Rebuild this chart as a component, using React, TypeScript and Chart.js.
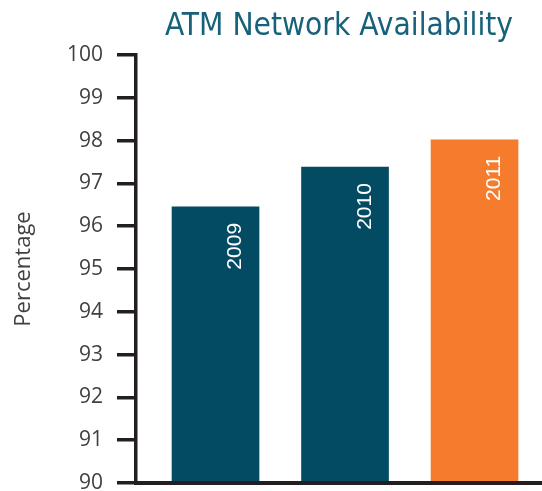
import React, { useEffect, useRef } from "react";
import { Chart, registerables } from "chart.js";

Chart.register(...registerables);

const years = ["2009", "2010", "2011"];
const availability = [96.45, 97.38, 98.02];
const barColors = ["#034a63", "#034a63", "#f47c2c"];
const yMin = 90;
const yMax = 100;
const yStep = 1;
const chartTitle = "ATM Network Availability";
const yAxisTitle = "Percentage";

const barLabelPlugin = {
  id: "barLabels",
  afterDatasetsDraw(chart: any) {
    const meta = chart.getDatasetMeta(0);
    const ctx = chart.ctx;
    ctx.save();
    ctx.fillStyle = "#ffffff";
    ctx.font = '21px "Liberation Sans", Arial, sans-serif';
    ctx.textAlign = "right";
    ctx.textBaseline = "middle";
    meta.data.forEach((bar: any, i: number) => {
      ctx.save();
      ctx.translate(bar.x + 20, bar.y + 16);
      ctx.rotate(-Math.PI / 2);
      ctx.fillText(years[i], 0, 0);
      ctx.restore();
    });
    ctx.restore();
  },
};

export default function App() {
  const canvasRef = useRef<HTMLCanvasElement | null>(null);

  useEffect(() => {
    if (!canvasRef.current) return;
    const chart = new Chart(canvasRef.current, {
      type: "bar",
      data: {
        datasets: [
          {
            data: availability.map((v, i) => ({ x: i, y: v })),
            backgroundColor: barColors,
            borderWidth: 0,
            barThickness: 87,
          },
        ],
      },
      options: {
        responsive: false,
        animation: false,
        layout: { padding: 0 },
        plugins: {
          legend: { display: false },
          tooltip: { enabled: false },
          title: {
            display: true,
            text: chartTitle,
            fullSize: false,
            color: "#17617a",
            font: {
              family: '"DejaVu Sans Condensed", "DejaVu Sans", sans-serif',
              size: 31.4,
              weight: "normal",
              lineHeight: 1.2,
            },
            padding: { top: 8.5, bottom: 8.8 },
          },
        },
        scales: {
          x: {
            type: "linear",
            offset: false,
            min: -0.614,
            max: 2.521,
            ticks: { display: false },
            grid: { display: false },
            border: { display: true, color: "#231f20", width: 4, z: 1 },
            afterFit: (s: any) => {
              s.height = 8;
              s.paddingTop = 0;
              s.paddingBottom = 0;
            },
          },
          y: {
            min: yMin,
            max: yMax,
            ticks: {
              stepSize: yStep,
              color: "#404040",
              font: { family: '"Open Sans", sans-serif', size: 21 },
              padding: 14,
            },
            grid: {
              drawOnChartArea: false,
              drawTicks: true,
              tickLength: 19,
              lineWidth: 3.5,
              color: "#231f20",
            },
            border: { color: "#231f20", width: 3.5 },
            title: {
              display: true,
              text: yAxisTitle,
              color: "#404040",
              font: { family: '"Open Sans", sans-serif', size: 22 },
              padding: { top: 11, bottom: 0 },
            },
            afterFit: (s: any) => {
              s.width = 136;
              s.paddingTop = 0;
              s.paddingBottom = 0;
            },
          },
        },
      } as any,
      plugins: [barLabelPlugin],
    });
    return () => chart.destroy();
  }, []);

  return (
    <div style={{ position: "absolute", left: 0, top: 0, width: 542, height: 491 }}>
      <canvas ref={canvasRef} width={542} height={491} style={{ display: "block" }} />
    </div>
  );
}
